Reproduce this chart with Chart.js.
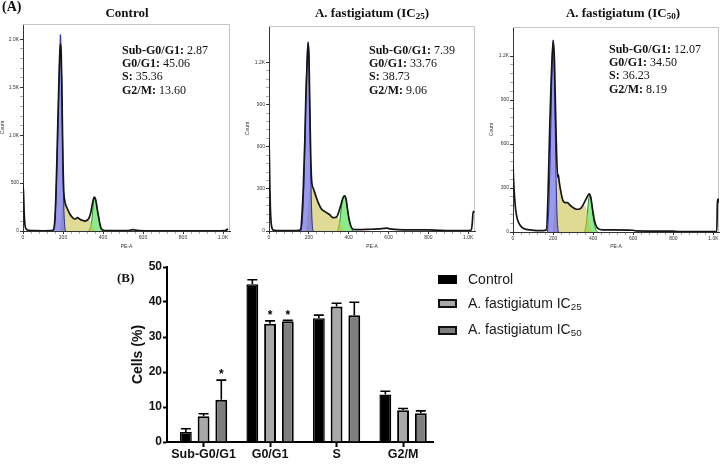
<!DOCTYPE html>
<html><head><meta charset="utf-8">
<script src="https://cdn.jsdelivr.net/npm/chart.js@4.4.1/dist/chart.umd.min.js"></script>
<style>
html,body{margin:0;padding:0;background:#fff;width:721px;height:464px;overflow:hidden}
body{position:relative}
canvas{position:absolute}
.t{position:absolute;white-space:nowrap;line-height:1;color:#111;font-family:"Liberation Serif","Times New Roman",serif}
.ann{font-size:12px}
.ann b{font-weight:bold}
.ttl{font-size:13px;font-weight:bold;text-align:center;width:240px}
.ttl sub,.lg sub{font-size:70%;vertical-align:-0.25em;line-height:0}
.lg{position:absolute;white-space:nowrap;line-height:1;color:#1a1a1a;font-family:"Liberation Sans",Arial,sans-serif;font-size:14px}
.lb{position:absolute;width:19px;height:9px;box-sizing:border-box}
</style></head><body>
<canvas id="h1" width="240" height="252" style="left:0;top:0"></canvas>
<canvas id="h2" width="240" height="252" style="left:240px;top:0"></canvas>
<canvas id="h3" width="241" height="252" style="left:480px;top:0"></canvas>
<canvas id="bar" width="340" height="209" style="left:100px;top:255px"></canvas>
<div id="txt"></div>
<script>
// ---------- bar chart data (panel B) ----------
const phases = ['Sub-G0/G1', 'G0/G1', 'S', 'G2/M'];
const seriesNames = ['Control', 'A. fastigiatum IC', 'A. fastigiatum IC'];
const seriesSubs = ['', '25', '50'];
const controlPct = [2.87, 45.06, 35.36, 13.60];
const ic25Pct = [7.39, 33.76, 38.73, 9.06];
const ic50Pct = [12.07, 34.50, 36.23, 8.19];
const controlErr = [0.9, 1.3, 0.9, 0.9];
const ic25Err = [0.7, 0.85, 0.9, 0.5];
const ic50Err = [5.6, 0.3, 3.7, 0.7];
const controlSig = [false, false, false, false];
const ic25Sig = [false, true, false, false];
const ic50Sig = [true, true, false, false];
const barYTicks = [0, 10, 20, 30, 40, 50];

// ---------- histogram panel titles ----------
const panelTitles = ['Control', 'A. fastigiatum (IC', 'A. fastigiatum (IC'];
const panelSubs = ['', '25', '50'];

// ---------- histogram tick labels ----------
const histXTicks = [0, 200, 400, 600, 800, 1000];
const ctrlYTicks = [0, 500, 1000, 1500, 2000];
const icYTicks = [0, 300, 600, 900, 1200];

// ---------- Control histogram (PE-A vs Count) ----------
const ctrlVal = [0,3,6,10,16,30,60,100,140,150,156,160,165,170,175,180,184,188,191,194,197,200,203,210,218,235,248,260,273,285,298,310,320,327,333,338,343,348,353,357,361,365,369,373,378,382,386,390,396,402,420,460,520,540,550,560,580,650,800,950,1010,1018,1024];
const ctrlCount = [480,380,180,60,20,6,3,2,3,10,40,140,400,780,1200,1580,1850,1950,1850,1550,1100,700,450,300,250,175,140,125,140,122,110,104,112,125,150,185,240,295,340,354,340,310,260,205,150,100,60,30,15,8,4,3,4,10,14,9,4,2,2,2,4,10,25];
const ctrlG1Val = [152,158,163,168,173,178,182,185,187,189,192,195,198,201,204,208,212];
const ctrlG1Count = [0,60,250,560,950,1380,1750,1960,2050,2000,1750,1350,900,520,250,70,0];
const ctrlSVal = [186,192,197,202,210,218,235,248,260,273,285,298,310,320,327,333,338,343,349,355,362];
const ctrlSCount = [0,180,300,345,290,250,175,140,125,140,122,110,104,112,118,112,95,70,40,15,0];
const ctrlG2Val = [328,334,340,345,349,353,357,361,365,369,373,378,382,386,390,396,402];
const ctrlG2Count = [0,20,60,130,230,310,354,340,310,260,205,150,100,60,30,10,0];

// ---------- IC25 histogram ----------
const ic25Val = [0,2,4,7,10,15,25,60,120,150,160,165,172,180,185,192,196,201,204,209,214,224,235,247,264,281,302,322,339,352,364,372,380,387,394,402,411,422,450,500,550,590,610,650,700,800,850,900,1000,1015,1020,1025,1030];
const ic25Count = [644,520,330,160,70,20,5,2,2,4,15,100,300,650,950,1216,1336,1220,950,560,360,298,250,202,155,138,119,95,100,143,202,238,250,227,155,83,36,12,10,12,15,20,15,10,8,8,5,3,3,8,50,140,130];
const ic25G1Val = [160,168,175,180,185,190,194,197,200,203,206,210,214,218,222];
const ic25G1Count = [0,100,330,620,950,1200,1320,1347,1280,1050,750,400,150,30,0];
const ic25SVal = [186,194,202,208,214,224,235,247,264,281,302,322,339,350,358,366,374];
const ic25SCount = [0,140,260,300,322,298,250,202,155,138,119,95,98,85,55,20,0];
const ic25G2Val = [345,352,358,364,370,376,380,385,390,395,400,406,412,420];
const ic25G2Count = [0,40,100,180,230,245,250,235,200,150,100,55,25,0];

// ---------- IC50 histogram ----------
const ic50Val = [0,3,8,13,20,28,42,58,83,117,150,167,175,183,190,197,202,207,212,217,223,226,230,238,247,260,272,283,300,317,333,347,360,372,380,388,397,405,413,425,447,497,597,613,797,830,997,1017,1020,1023,1027];
const ic50Count = [452,349,235,155,98,64,35,20,15,10,10,15,260,700,1011,1239,1296,1160,850,560,372,390,349,281,224,201,201,185,166,155,157,178,212,245,260,235,155,87,48,23,15,15,12,8,6,3,3,5,200,224,200];
const ic50G1Val = [172,178,183,188,193,197,200,203,206,209,213,217,221,226];
const ic50G1Count = [0,150,380,680,1000,1230,1310,1250,1080,850,520,250,80,0];
const ic50SVal = [198,205,212,218,223,230,238,247,260,272,283,300,317,333,347,358,366,375,384,392];
const ic50SCount = [0,120,280,360,372,349,281,224,201,201,185,166,155,157,170,180,150,100,40,0];
const ic50G2Val = [358,365,371,376,380,384,388,393,398,403,408,414,422];
const ic50G2Count = [0,50,130,200,245,258,240,190,130,80,45,15,0];

// ================= drawing =================
const pts = (xs, ys) => xs.map((x, i) => ({x: x, y: ys[i]}));
const fmtK = v => v >= 1000 ? (v / 1000).toFixed(1) + 'K' : String(v);
function withMinor(major, n) {
  const out = [];
  for (let i = 0; i < major.length; i++) {
    out.push({value: major[i]});
    if (i < major.length - 1) {
      const step = (major[i + 1] - major[i]) / n;
      for (let k = 1; k < n; k++) out.push({value: major[i] + k * step, isMinor: true});
    }
  }
  return out;
}
const frame = {
  id: 'frame',
  beforeDatasetsDraw(chart) {
    const a = chart.chartArea, c = chart.ctx;
    c.save(); c.strokeStyle = '#c4c4c4'; c.lineWidth = 1;
    c.beginPath();
    c.moveTo(a.left, a.top + 0.5); c.lineTo(a.right - 0.5, a.top + 0.5); c.lineTo(a.right - 0.5, a.bottom);
    c.stroke(); c.restore();
  }
};
const tinyFont = {family: '"Liberation Sans", Arial, sans-serif', size: 5};
function hist(id, d) {
  const common = {pointRadius: 0, cubicInterpolationMode: 'monotone'};
  new Chart(document.getElementById(id), {
    type: 'line',
    data: {datasets: [
      Object.assign({data: pts(d.val, d.cnt), borderColor: '#151515', borderWidth: 1.7, fill: false}, common),
      Object.assign({data: pts(d.g1v, d.g1c), borderColor: 'rgba(25,25,160,0.9)', borderWidth: 1, backgroundColor: 'rgba(100,100,230,0.66)', fill: 'origin'}, common),
      Object.assign({data: pts(d.sv, d.sc), borderColor: 'rgba(0,0,0,0)', borderWidth: 0, backgroundColor: 'rgba(200,192,70,0.58)', fill: 'origin'}, common),
      Object.assign({data: pts(d.g2v, d.g2c), borderColor: 'rgba(20,130,20,0.9)', borderWidth: 1, backgroundColor: 'rgba(70,222,70,0.62)', fill: 'origin'}, common)
    ]},
    options: {
      responsive: false, animation: false, events: [],
      layout: {padding: {left: 0, top: d.top, right: d.right, bottom: 0}},
      plugins: {legend: {display: false}, tooltip: {enabled: false}},
      scales: {
        x: {
          type: 'linear', min: 0, max: d.xmax,
          afterBuildTicks: s => { s.ticks = withMinor(histXTicks, 5); },
          afterFit: s => { s.height = d.xh; },
          ticks: {autoSkip: false, maxRotation: 0, minRotation: 0, padding: 1, color: '#333', font: tinyFont,
            callback: (v, i, t) => t[i].isMinor ? '' : fmtK(v)},
          grid: {drawOnChartArea: false, tickLength: 3, tickColor: c => (c.tick && c.tick.isMinor) ? '#aaa' : '#333'},
          border: {color: '#333', width: 1},
          title: {display: true, text: 'PE-A', color: '#333', font: tinyFont, padding: {top: 0, bottom: 2}}
        },
        y: {
          type: 'linear', min: 0, max: d.ymax,
          afterBuildTicks: s => { s.ticks = withMinor(d.yt, 5); },
          afterFit: s => { s.width = d.yw; },
          ticks: {autoSkip: false, padding: 1, color: '#333', font: tinyFont,
            callback: (v, i, t) => t[i].isMinor ? '' : fmtK(v)},
          grid: {drawOnChartArea: false, tickLength: 3, tickColor: c => (c.tick && c.tick.isMinor) ? '#aaa' : '#333'},
          border: {color: '#333', width: 1},
          title: {display: true, text: 'Count', color: '#333', font: tinyFont, padding: {top: d.tp, bottom: 0}}
        }
      }
    },
    plugins: [frame]
  });
}
hist('h1', {val: ctrlVal, cnt: ctrlCount, g1v: ctrlG1Val, g1c: ctrlG1Count, sv: ctrlSVal, sc: ctrlSCount, g2v: ctrlG2Val, g2c: ctrlG2Count,
  top: 24, right: 10, xh: 21, yw: 23, xmax: 1035, ymax: 2160, yt: ctrlYTicks, tp: 0});
hist('h2', {val: ic25Val, cnt: ic25Count, g1v: ic25G1Val, g1c: ic25G1Count, sv: ic25SVal, sc: ic25SCount, g2v: ic25G2Val, g2c: ic25G2Count,
  top: 26, right: 5, xh: 21, yw: 29, xmax: 1034, ymax: 1460, yt: icYTicks, tp: 5});
hist('h3', {val: ic50Val, cnt: ic50Count, g1v: ic50G1Val, g1c: ic50G1Count, sv: ic50SVal, sc: ic50SCount, g2v: ic50G2Val, g2c: ic50G2Count,
  top: 27, right: 2, xh: 20, yw: 33, xmax: 1028, ymax: 1398, yt: icYTicks, tp: 9});

// ---------- bar chart ----------
const errPlugin = {
  id: 'errbars',
  afterDatasetsDraw(chart) {
    const c = chart.ctx, ys = chart.scales.y;
    chart.data.datasets.forEach((ds, di) => {
      const meta = chart.getDatasetMeta(di);
      meta.data.forEach((el, i) => {
        const yt = ys.getPixelForValue(ds.data[i].y + ds.errors[i]);
        const hw = el.width * 0.42;
        c.save(); c.strokeStyle = '#000'; c.lineWidth = 1.6;
        c.beginPath(); c.moveTo(el.x, el.y); c.lineTo(el.x, yt);
        c.moveTo(el.x - hw, yt); c.lineTo(el.x + hw, yt); c.stroke();
        if (ds.sig[i]) {
          c.fillStyle = '#000'; c.font = 'bold 12px "Liberation Sans", Arial, sans-serif';
          c.textAlign = 'center'; c.textBaseline = 'middle';
          c.fillText('*', el.x, yt - 5);
        }
        c.restore();
      });
    });
  }
};
const boldSans = s => ({family: '"Liberation Sans", Arial, sans-serif', size: s, weight: 'bold'});
new Chart(document.getElementById('bar'), {
  type: 'bar',
  data: {datasets: [
    {label: seriesNames[0], data: pts([0,1,2,3], controlPct), errors: controlErr, sig: controlSig, backgroundColor: '#000', borderColor: '#000', borderWidth: 1.5},
    {label: seriesNames[1] + seriesSubs[1], data: pts([0,1,2,3], ic25Pct), errors: ic25Err, sig: ic25Sig, backgroundColor: '#a8a8a8', borderColor: '#000', borderWidth: 2},
    {label: seriesNames[2] + seriesSubs[2], data: pts([0,1,2,3], ic50Pct), errors: ic50Err, sig: ic50Sig, backgroundColor: '#7e7e7e', borderColor: '#000', borderWidth: 2}
  ]},
  options: {
    responsive: false, animation: false, events: [],
    layout: {padding: {left: 0, top: 12, right: 7, bottom: 0}},
    datasets: {bar: {categoryPercentage: 0.8, barPercentage: 0.67, borderSkipped: 'start'}},
    plugins: {legend: {display: false}, tooltip: {enabled: false}},
    scales: {
      x: {
        type: 'linear', min: -0.55, max: 3.45, offset: false,
        afterBuildTicks: s => { s.ticks = phases.map((p, i) => ({value: i})); },
        afterFit: s => { s.height = 22; },
        ticks: {autoSkip: false, maxRotation: 0, minRotation: 0, padding: 0, color: '#111', font: boldSans(12.5),
          callback: v => phases[v]},
        grid: {drawOnChartArea: false, offset: false, tickLength: 5, tickWidth: 2, tickColor: '#000'},
        border: {color: '#000', width: 2}
      },
      y: {
        min: 0, max: 50,
        afterBuildTicks: s => { s.ticks = barYTicks.map(v => ({value: v})); },
        afterFit: s => { s.width = 67; },
        ticks: {padding: 1, color: '#111', font: boldSans(12)},
        grid: {drawOnChartArea: false, tickLength: 4, tickWidth: 2, tickColor: '#000'},
        border: {color: '#000', width: 2},
        title: {display: true, text: 'Cells (%)', color: '#111', font: boldSans(14), padding: {top: 30, bottom: 0}}
      }
    }
  },
  plugins: [errPlugin]
});

// ---------- text overlays ----------
const txt = document.getElementById('txt');
function add(html, cls, left, top, extra) {
  const d = document.createElement('div');
  d.className = cls; d.innerHTML = html;
  d.style.left = left + 'px'; d.style.top = top + 'px';
  if (extra) Object.assign(d.style, extra);
  txt.appendChild(d);
}
add('(A)', 't', 2, 0, {fontSize: '14px', fontWeight: 'bold'});
add('(B)', 't', 117, 271, {fontSize: '13px', fontWeight: 'bold'});
const titleCenters = [127, 372, 623];
panelTitles.forEach((t, i) => {
  const html = t + (panelSubs[i] ? '<sub>' + panelSubs[i] + '</sub>)' : '');
  add(html, 't ttl', titleCenters[i] - 120, 6);
});
const annLeft = [122, 369, 609];
const annTop = [44, 44, 43];
const groupVals = [controlPct, ic25Pct, ic50Pct];
groupVals.forEach((vals, g) => {
  phases.forEach((p, k) => {
    add('<b>' + p + ':</b> ' + vals[k].toFixed(2), 't ann', annLeft[g], annTop[g] + k * 13.2);
  });
});
// legend
const legTop = [275, 299, 326];
const legFill = ['#000', '#a8a8a8', '#7e7e7e'];
const legTextTop = [272, 296, 322];
seriesNames.forEach((n, i) => {
  add('', 'lb', 438, legTop[i], i === 0 ? {background: legFill[i]} : {background: legFill[i], border: '2px solid #111'});
  add(n + (seriesSubs[i] ? '<sub>' + seriesSubs[i] + '</sub>' : ''), 'lg', 468, legTextTop[i]);
});
</script>
</body></html>
